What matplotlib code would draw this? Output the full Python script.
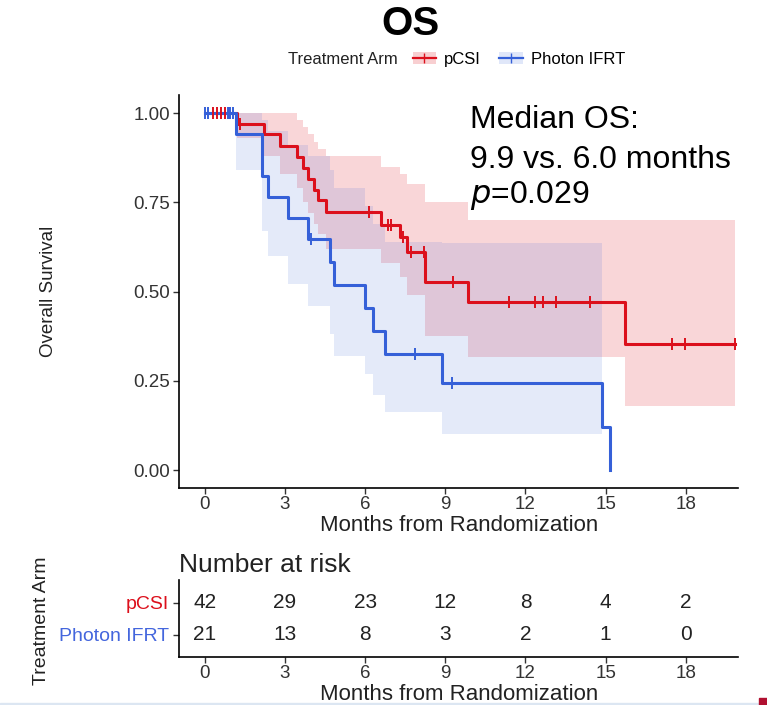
import matplotlib
matplotlib.use("Agg")
import matplotlib.pyplot as plt
from matplotlib.lines import Line2D
from matplotlib.patches import Patch, Rectangle

plt.rcParams['font.family'] = ['Liberation Sans', 'DejaVu Sans']

RED = '#DC101C'
BLUE = '#3560D8'

# Kaplan-Meier steps, pCSI arm
pcsi_t = [0, 1.2, 2.2, 2.82, 3.44, 3.69, 3.86, 4.1, 4.23, 4.54, 6.59, 7.3, 7.55, 8.25, 9.86, 15.73, 19.86]
pcsi_s = [1.0, 0.97, 0.94, 0.909, 0.877, 0.847, 0.815, 0.784, 0.755, 0.722, 0.686, 0.653, 0.61, 0.526, 0.472, 0.354, 0.354]
pcsi_hi = [1.0, 1.0, 1.0, 1.0, 0.98, 0.96, 0.94, 0.92, 0.90, 0.88, 0.85, 0.83, 0.80, 0.75, 0.70, 0.70, 0.70]
pcsi_lo = [1.0, 0.93, 0.88, 0.83, 0.79, 0.75, 0.72, 0.69, 0.66, 0.62, 0.58, 0.54, 0.49, 0.376, 0.316, 0.178, 0.178]
pcsi_cens = [0.3, 0.45, 0.6, 0.75, 0.9, 1.3, 6.13, 6.84, 6.96, 7.42, 7.71, 8.2, 9.27,
             11.38, 12.35, 12.66, 13.16, 14.43, 17.47, 17.97, 19.86]

# Kaplan-Meier steps, Photon IFRT arm
ifrt_t = [0, 1.16, 2.13, 2.36, 3.12, 3.86, 4.7, 4.85, 6.0, 6.31, 6.74, 8.87, 14.86, 15.17]
ifrt_s = [1.0, 0.941, 0.823, 0.765, 0.705, 0.647, 0.584, 0.517, 0.455, 0.39, 0.325, 0.244, 0.121, 0.0]
ifrt_hi = [1.0, 1.0, 0.98, 0.95, 0.91, 0.88, 0.84, 0.79, 0.74, 0.69, 0.64, 0.636, 0.636, 0.636]
ifrt_lo = [1.0, 0.84, 0.67, 0.60, 0.52, 0.46, 0.38, 0.32, 0.269, 0.21, 0.162, 0.102, 0.02, 0.02]
ifrt_cens = [0.0, 0.12, 0.85, 0.95, 1.05, 3.96, 7.87, 9.24]

risk_times = [0, 3, 6, 9, 12, 15, 18]
risk_pcsi = [42, 29, 23, 12, 8, 4, 2]
risk_ifrt = [21, 13, 8, 3, 2, 1, 0]


def surv_at(ts, ss, x):
    val = ss[0]
    for t, s in zip(ts, ss):
        if t <= x:
            val = s
    return val


fig = plt.figure(figsize=(7.67, 7.05), dpi=100)

ax = fig.add_axes([0.234, 0.308, 0.728, 0.557])
ax.fill_between(pcsi_t, pcsi_lo, pcsi_hi, step='post', color=RED, alpha=0.17, lw=0)
ax.fill_between(ifrt_t[:-1], ifrt_lo[:-1], ifrt_hi[:-1], step='post', color=BLUE, alpha=0.13, lw=0)
ax.step(pcsi_t, pcsi_s, where='post', color=RED, lw=2.2)
ax.step(ifrt_t, ifrt_s, where='post', color=BLUE, lw=2.2)
ax.plot(pcsi_cens, [surv_at(pcsi_t, pcsi_s, c) for c in pcsi_cens], ls='none',
        marker='|', ms=8, mew=1.4, color=RED)
ax.plot(ifrt_cens, [surv_at(ifrt_t, ifrt_s, c) for c in ifrt_cens], ls='none',
        marker='|', ms=8, mew=1.4, color=BLUE)

ax.set_xlim(-0.95, 19.95)
ax.set_ylim(-0.05, 1.05)
ax.set_xticks(risk_times)
ax.set_yticks([0, 0.25, 0.5, 0.75, 1.0])
ax.set_yticklabels(['0.00', '0.25', '0.50', '0.75', '1.00'])
ax.tick_params(axis='both', length=4, width=1, color='#333333', labelcolor='#333333')
ax.tick_params(axis='x', labelsize=13.5, pad=2)
ax.tick_params(axis='y', labelsize=13.5, pad=3)
for side in ('top', 'right'):
    ax.spines[side].set_visible(False)
for side in ('left', 'bottom'):
    ax.spines[side].set_linewidth(1.2)
ax.set_xlabel('Months from Randomization', fontsize=16, color='#222222', labelpad=1)
ax.set_ylabel('Overall Survival', fontsize=13.5, color='#222222', labelpad=55)

ax.text(0.52, 0.936, 'Median OS:', transform=ax.transAxes, fontsize=23, va='center')
ax.text(0.52, 0.834, '9.9 vs. 6.0 months', transform=ax.transAxes, fontsize=23, va='center')
ax.text(0.52, 0.745, r'$\it{p}$=0.029', transform=ax.transAxes, fontsize=23, va='center')

fig.text(0.535, 0.966, 'OS', fontsize=29, fontweight='bold', ha='center', va='center')
fig.text(0.3755, 0.916, 'Treatment Arm', fontsize=12, ha='left', va='center', color='#222222')
h_red = (Patch(color=RED, alpha=0.2, lw=0), Line2D([], [], color=RED, marker='|', ms=7, lw=1.6))
h_blue = (Patch(color=BLUE, alpha=0.15, lw=0), Line2D([], [], color=BLUE, marker='|', ms=7, lw=1.6))
fig.legend([h_red, h_blue], ['pCSI', 'Photon IFRT'], loc='center left',
           bbox_to_anchor=(0.527, 0.916), ncol=2, frameon=False, fontsize=12,
           handlelength=1.4, handletextpad=0.5, columnspacing=1.1, borderpad=0)

# number at risk table
tab = fig.add_axes([0.234, 0.068, 0.728, 0.109])
for x, n in zip(risk_times, risk_pcsi):
    tab.text(x, 2, str(n), ha='center', va='center', fontsize=15, color='#222222')
for x, n in zip(risk_times, risk_ifrt):
    tab.text(x, 1, str(n), ha='center', va='center', fontsize=15, color='#222222')
tab.set_xlim(-0.95, 19.95)
tab.set_ylim(0.3, 2.7)
tab.set_xticks(risk_times)
tab.set_yticks([2, 1])
tab.set_yticklabels(['pCSI', 'Photon IFRT'], fontsize=14)
tab.get_yticklabels()[0].set_color(RED)
tab.get_yticklabels()[1].set_color('#4466DD')
tab.tick_params(axis='both', length=4, width=1, color='#333333')
tab.tick_params(axis='x', labelsize=13.5, labelcolor='#333333', pad=2)
for side in ('top', 'right'):
    tab.spines[side].set_visible(False)
for side in ('left', 'bottom'):
    tab.spines[side].set_linewidth(1.2)
tab.set_xlabel('Months from Randomization', fontsize=16, color='#222222', labelpad=1)
tab.set_title('Number at risk', loc='left', fontsize=19, color='#222222', pad=6)
fig.text(0.054, 0.12, 'Treatment Arm', rotation=90, fontsize=14, ha='center', va='center',
         color='#222222')

fig.patches.append(Rectangle((0.0, 0.0), 1.0, 0.003, transform=fig.transFigure,
                             color='#DCE6F2', zorder=0))
fig.patches.append(Rectangle((0.99, 0.0), 0.01, 0.01, transform=fig.transFigure,
                             color='#B01030', zorder=1))

fig.savefig('out.png', dpi=100)
